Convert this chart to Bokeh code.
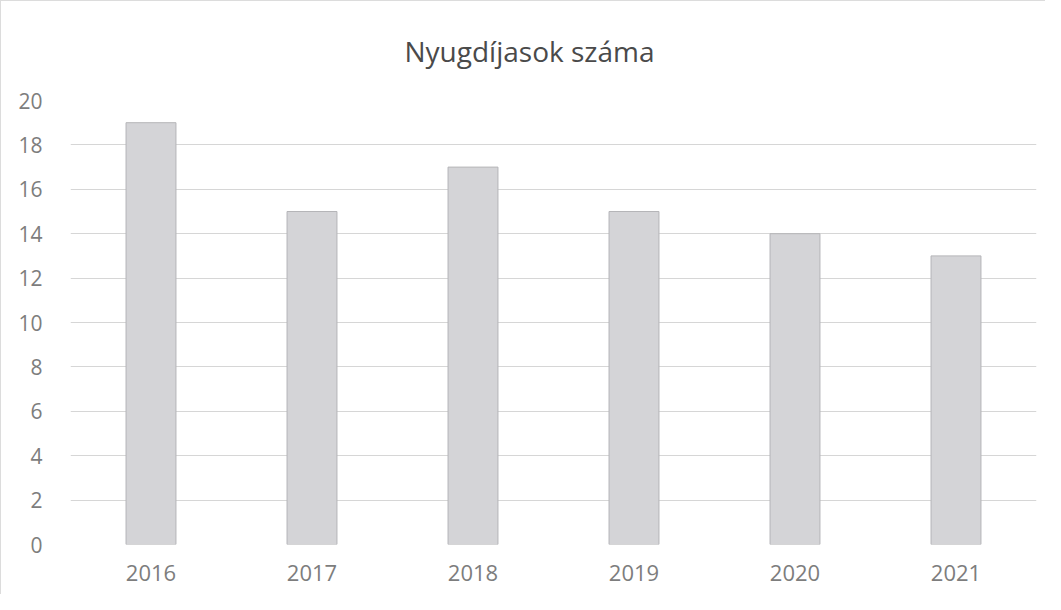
from bokeh.plotting import figure
from bokeh.embed import file_html
from bokeh.resources import INLINE
from bokeh.models import FixedTicker, Range1d

years = ["2016", "2017", "2018", "2019", "2020", "2021"]
counts = [19, 15, 17, 15, 14, 13]
y_ticks = [0, 2, 4, 6, 8, 10, 12, 14, 16, 18, 20]
title_text = "Nyugdíjasok száma"

FONT = "Open Sans"

p = figure(x_range=years, y_range=Range1d(0, 20), width=1045, height=594,
           output_backend="svg", toolbar_location=None, title=title_text,
           min_border_left=69, min_border_right=10, min_border_top=99, min_border_bottom=51)

p.vbar(x=years, top=counts, width=0.31, fill_color="#d4d4d7", line_color="#b5b5b8", line_width=1)

p.title.align = "left"
p.title.vertical_align = "top"
p.title.text_font = FONT
p.title.text_font_size = "28px"
p.title.text_font_style = "normal"
p.title.text_color = "#4a4a4a"
p.title.standoff = 57
p.title.offset = 334

p.yaxis.ticker = FixedTicker(ticks=y_ticks)
for ax in (p.xaxis, p.yaxis):
    ax.axis_line_color = None
    ax.major_tick_line_color = None
    ax.minor_tick_line_color = None
    ax.major_label_text_font = FONT
    ax.major_label_text_color = "#7d7d7d"
p.xaxis.major_label_text_font_size = "22px"
p.yaxis.major_label_text_font_size = "21px"
p.xaxis.major_label_standoff = 14
p.yaxis.major_label_standoff = 22

p.xgrid.grid_line_color = None
p.ygrid.grid_line_color = "#d6d6d6"
p.ygrid.grid_line_width = 1
p.outline_line_color = None
p.border_fill_color = "white"
p.styles = {"border-left": "1px solid #dcdcdc", "border-top": "1px solid #dcdcdc"}

open("out.html", "w").write(file_html(p, INLINE))
